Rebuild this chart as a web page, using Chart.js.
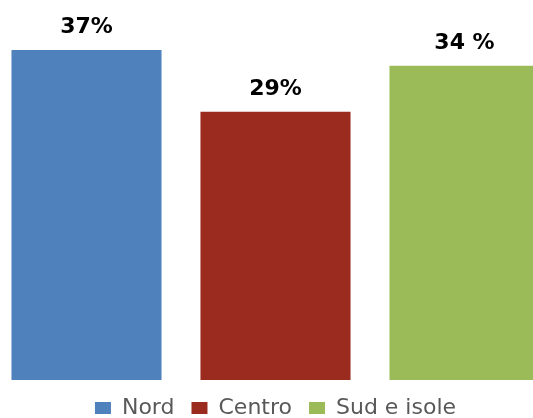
<!DOCTYPE html>
<html>
<head>
<meta charset="utf-8">
<script src="https://cdn.jsdelivr.net/npm/chart.js@4"></script>
<style>
  html, body { margin: 0; padding: 0; background: #fff; overflow: hidden; }
  #wrap { position: relative; width: 533px; height: 418px; overflow: hidden; }
  #box  { position: absolute; left: -8px; top: 0; width: 567px; height: 429px; }
</style>
</head>
<body>
<div id="wrap"><div id="box"><canvas id="chart"></canvas></div></div>
<script>
// categorie e valori (altezza barre, etichette come scritte)
const categories  = ["Nord", "Centro", "Sud e isole"];
const values      = [35.7, 29, 34];
const valueLabels = ["37%", "29%", "34 %"];
const barColors   = ["#4F81BD", "#9C2B1F", "#9BBB59"];

// etichette sopra le barre
const topLabels = {
  id: "topLabels",
  afterDatasetsDraw(chart) {
    const ctx = chart.ctx;
    const meta = chart.getDatasetMeta(0);
    ctx.save();
    ctx.font = "bold 22px 'DejaVu Sans'";
    ctx.fillStyle = "#000";
    ctx.textAlign = "center";
    ctx.textBaseline = "alphabetic";
    meta.data.forEach((bar, i) => {
      ctx.fillText(valueLabels[i], bar.x, bar.y - 17);
    });
    ctx.restore();
  }
};

new Chart(document.getElementById("chart"), {
  type: "bar",
  data: {
    labels: categories,
    datasets: [{
      data: values,
      backgroundColor: barColors,
      borderWidth: 0,
      categoryPercentage: 1,
      barPercentage: 0.794
    }]
  },
  options: {
    responsive: true,
    maintainAspectRatio: false,
    animation: false,
    layout: { padding: 0 },
    scales: {
      x: { display: false },
      y: { display: false, min: 0, max: 41.1 }
    },
    plugins: {
      tooltip: { enabled: false },
      legend: {
        position: "bottom",
        labels: {
          boxWidth: 16,
          boxHeight: 12,
          padding: 17,
          color: "#595959",
          font: { family: "'DejaVu Sans'", size: 22 },
          generateLabels: () => categories.map((c, i) => ({
            text: c,
            fillStyle: barColors[i],
            strokeStyle: barColors[i],
            lineWidth: 0,
            fontColor: "#595959",
            index: i
          }))
        }
      }
    }
  },
  plugins: [topLabels]
});
</script>
</body>
</html>
